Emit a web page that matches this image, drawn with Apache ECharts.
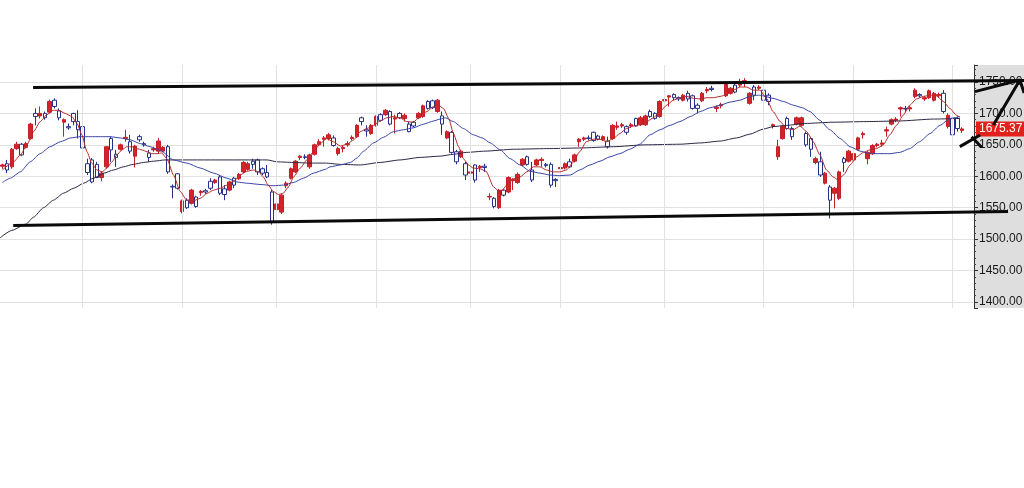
<!DOCTYPE html>
<html><head><meta charset="utf-8">
<script src="https://cdn.jsdelivr.net/npm/echarts@6/dist/echarts.min.js"></script>
<style>html,body{margin:0;padding:0;background:#fff}#c{width:1024px;height:488px}</style>
</head><body><div id="c"></div>
<script>
// ---- data ----
// candles: [open, close, low, high]
const candles = [
[1616,1618,1612,1620],[1620,1610,1605,1626],[1615,1643,1612,1645],[1644,1651,1642,1655],[1651,1634,1632,1653],
[1646,1652,1644,1655],[1660,1683,1658,1685],[1700,1695,1681,1708],[1696,1700,1692,1711],[1700,1693,1690,1703],
[1702,1719,1700,1722],[1721,1711,1708,1724],[1704,1693,1689,1708],[1686,1690,1663,1692],[1679,1677,1674,1684],
[1700,1687,1681,1701],[1687,1674,1660,1705],[1679,1645,1631,1682],[1620,1606,1602,1628],[1626,1591,1589,1629],
[1619,1598,1597,1623],[1598,1605,1592,1607],[1615,1647,1612,1648],[1660,1642,1623,1663],[1635,1630,1615,1642],
[1643,1650,1641,1652],[1660,1662,1655,1674],[1655,1640,1636,1666],[1632,1648,1614,1650],[1663,1658,1655,1666],
[1652,1650,1647,1655],[1637,1630,1623,1642],[1642,1644,1639,1647],[1640,1656,1636,1661],[1640,1646,1638,1648],
[1647,1607,1604,1650],[1584,1583,1565,1587],[1604,1581,1579,1605],[1544,1561,1541,1563],[1562,1550,1548,1565],
[1557,1578,1555,1580],[1567,1552,1550,1569],[1574,1576,1569,1578],[1577,1575,1572,1580],[1592,1581,1578,1597],
[1590,1594,1588,1596],[1599,1573,1570,1602],[1580,1571,1562,1586],[1578,1591,1576,1593],[1597,1586,1581,1599],
[1596,1603,1594,1605],[1607,1622,1605,1624],[1611,1620,1609,1623],[1624,1619,1612,1628],[1626,1607,1602,1628],
[1612,1605,1602,1614],[1606,1599,1597,1618],[1575,1528,1523,1578],[1547,1556,1544,1558],[1543,1570,1540,1572],
[1585,1589,1581,1592],[1597,1612,1595,1614],[1607,1624,1605,1626],[1630,1632,1626,1634],[1631,1630,1627,1635],
[1615,1634,1612,1636],[1635,1650,1633,1652],[1650,1655,1648,1659],[1659,1661,1647,1664],[1660,1666,1657,1669],
[1661,1649,1647,1665],[1636,1644,1633,1647],[1644,1646,1638,1649],[1650,1652,1647,1656],[1660,1662,1657,1665],
[1663,1681,1661,1683],[1693,1687,1681,1695],[1674,1672,1663,1681],[1668,1681,1666,1683],[1681,1695,1679,1697],
[1698,1689,1687,1700],[1698,1705,1696,1707],[1703,1683,1681,1705],[1691,1693,1668,1698],[1700,1693,1691,1702],
[1692,1697,1687,1700],[1683,1671,1670,1687],[1686,1680,1678,1688],[1693,1700,1691,1702],[1695,1712,1693,1714],
[1719,1708,1706,1721],[1720,1709,1707,1722],[1703,1721,1701,1723],[1696,1683,1666,1703],[1661,1671,1659,1673],
[1670,1638,1636,1672],[1639,1623,1619,1642],[1631,1640,1629,1642],[1620,1602,1594,1623],[1605,1607,1602,1610],
[1618,1594,1590,1619],[1614,1616,1607,1618],[1616,1614,1607,1620],[1567,1568,1562,1573],[1565,1552,1549,1567],
[1550,1578,1548,1580],[1578,1570,1568,1580],[1575,1598,1573,1600],[1593,1595,1578,1597],[1590,1603,1588,1606],
[1618,1627,1616,1629],[1631,1619,1617,1633],[1610,1594,1591,1623],[1618,1626,1616,1628],[1625,1627,1615,1630],
[1619,1617,1614,1621],[1619,1586,1582,1622],[1595,1593,1583,1597],[1612,1614,1609,1616],[1613,1620,1611,1622],
[1623,1615,1613,1628],[1624,1634,1622,1636],[1655,1659,1647,1661],[1659,1661,1656,1663],[1661,1660,1657,1665],
[1670,1657,1655,1671],[1664,1659,1657,1666],[1658,1663,1656,1665],[1656,1647,1644,1663],[1660,1681,1658,1683],
[1678,1680,1674,1687],[1680,1682,1677,1685],[1679,1670,1666,1681],[1680,1682,1677,1685],[1692,1680,1679,1693],
[1682,1693,1680,1696],[1682,1696,1680,1698],[1703,1695,1693,1706],[1700,1692,1690,1702],[1695,1719,1693,1721],
[1720,1722,1713,1724],[1726,1728,1711,1729],[1730,1725,1721,1732],[1725,1723,1720,1727],[1721,1729,1719,1731],
[1732,1723,1719,1736],[1728,1708,1706,1730],[1713,1708,1700,1716],[1720,1732,1718,1734],[1736,1738,1732,1742],
[1740,1738,1735,1744],[1708,1710,1702,1713],[1712,1714,1708,1717],[1728,1746,1726,1748],[1732,1740,1730,1742],
[1745,1734,1732,1748],[1745,1751,1742,1755],[1750,1752,1742,1756],[1716,1732,1714,1734],[1742,1729,1721,1745],
[1740,1742,1737,1745],[1737,1721,1711,1740],[1729,1719,1713,1732],[1680,1682,1676,1684],[1631,1647,1626,1658],
[1660,1679,1658,1681],[1692,1676,1674,1695],[1676,1663,1658,1679],[1683,1693,1681,1695],[1681,1693,1679,1695],
[1668,1650,1647,1671],[1660,1643,1631,1663],[1622,1628,1619,1631],[1623,1602,1599,1639],[1589,1605,1587,1607],
[1583,1562,1533,1586],[1573,1581,1549,1583],[1565,1607,1562,1609],[1628,1622,1607,1631],[1624,1640,1622,1642],
[1626,1636,1624,1638],[1643,1661,1641,1663],[1666,1668,1660,1671],[1628,1638,1619,1640],[1636,1649,1634,1651],
[1649,1651,1646,1653],[1651,1653,1647,1658],[1672,1674,1663,1679],[1683,1690,1681,1692],[1689,1691,1686,1694],
[1707,1709,1695,1711],[1708,1707,1702,1712],[1707,1709,1703,1712],[1727,1737,1724,1740],[1730,1728,1725,1732],
[1723,1725,1720,1728],[1725,1736,1723,1738],[1721,1732,1719,1734],[1728,1730,1725,1733],[1732,1703,1700,1737],
[1679,1697,1676,1700],[1692,1666,1663,1695],[1692,1676,1671,1695],[1673,1675.37,1669,1678]
];
const lastPrice = 1675.37;
const dayCount = 206;                       // trading-day slots on the axis (last two empty)
const days = Array.from({length: dayCount}, (_, i) => String(i + 1));
const monthStartIdx = [17, 38, 58, 79, 99, 118, 140, 161, 180, 201];
const priceTicks = [1400, 1450, 1500, 1550, 1600, 1650, 1700, 1750];

// moving averages: [day index, value]
const ma5 = [[0,1610],[2.4,1623],[3.8,1634],[5.2,1650],[6.6,1671],[8,1687],[9.4,1698],[10.8,1705],[11.9,1705],[13.3,1700],[14.7,1695],[15.8,1684],[16.8,1666],[17.9,1639],[18.9,1621],[20,1610],[21.1,1607],[22.1,1613],[23.2,1623],[24.2,1634],[25.3,1642],[26.3,1647],[27.4,1647],[28.5,1644],[29.5,1642],[30.6,1639],[31.6,1636],[32.7,1636],[33.7,1637],[34.8,1628],[36.2,1602],[37.6,1576],[39,1562],[40.4,1561],[41.9,1565],[43.3,1573],[44.7,1578],[46.1,1581],[47.5,1586],[48.9,1592],[50.3,1602],[51.7,1608],[53.1,1610],[54.2,1607],[55.2,1599],[56.2,1586],[57.3,1576],[58.4,1571],[59.4,1573],[60.5,1583],[61.6,1599],[63,1613],[64.4,1626],[65.8,1639],[67.2,1652],[68.6,1660],[70,1655],[71.5,1648],[72.9,1651],[74.3,1658],[75.7,1671],[77.1,1676],[78.5,1681],[79.9,1688],[81.3,1693],[82.7,1695],[84.1,1693],[85.5,1687],[86.9,1686],[88.3,1695],[89.8,1703],[91.2,1711],[92.2,1713],[93.3,1708],[94.4,1692],[95.4,1668],[96.5,1647],[97.5,1628],[98.6,1618],[99.6,1613],[101,1612],[102.3,1608],[103.9,1583],[105.3,1574],[106.7,1586],[108.1,1596],[109.5,1599],[110.9,1607],[112.3,1615],[113.7,1615],[115.1,1610],[116.5,1607],[117.9,1607],[119.3,1610],[120.7,1622],[122.1,1639],[123.5,1655],[125,1659],[126.4,1659],[127.8,1655],[129.2,1660],[130.6,1668],[132,1676],[133.4,1680],[134.8,1682],[136.3,1687],[137.7,1693],[139.1,1703],[140.5,1713],[141.9,1721],[143.3,1725],[144.7,1727],[146.2,1724],[147.6,1723],[149,1725],[150.4,1725],[151.8,1727],[153.2,1730],[154.6,1737],[156,1742],[157.4,1742],[158.8,1737],[160.2,1737],[161.6,1724],[163,1703],[164.5,1687],[165.9,1676],[167.3,1674],[168.7,1680],[170.1,1671],[171.5,1655],[172.9,1634],[174.3,1610],[175.7,1599],[176.8,1594],[177.9,1602],[179.3,1618],[180.7,1631],[182.1,1638],[183.5,1642],[184.9,1644],[186.3,1650],[187.7,1666],[189.1,1681],[190.5,1697],[191.9,1713],[193.3,1723],[194.8,1727],[196.2,1729],[197.6,1728],[199,1719],[200.4,1708],[201.8,1697],[202.5,1694]];
const ma20 = [[0,1590],[1.7,1597],[3.8,1607],[5.9,1623],[8,1636],[10.1,1647],[12.3,1655],[14.4,1661],[16.5,1663],[18.6,1663],[20.7,1663],[22.8,1663],[24.9,1661],[27,1658],[29.2,1652],[31.3,1647],[33.4,1641],[36.2,1626],[39,1621],[41.9,1613],[44.7,1605],[47.5,1597],[49.6,1591],[51.7,1589],[54.5,1587],[57.3,1585],[59.5,1586],[61.5,1590],[63.7,1597],[65.8,1605],[68.3,1611],[69.3,1615],[71.5,1618],[73.6,1622],[75,1629],[76.4,1640],[78.5,1653],[80.6,1662],[82.7,1671],[84.8,1674],[86.9,1677],[89.1,1683],[91.2,1688],[92.6,1691],[93.7,1693],[95.4,1687],[97.5,1676],[99.6,1666],[101.5,1661],[103.2,1653],[105.3,1642],[107.4,1628],[109.5,1618],[111.6,1608],[113.7,1605],[115.8,1602],[117.9,1601],[120.1,1602],[122.1,1610],[124.3,1618],[126.4,1624],[128.5,1631],[130.6,1636],[132.7,1643],[134.8,1651],[137,1666],[139.1,1674],[141.2,1681],[143.3,1687],[145.5,1695],[147.6,1703],[149.7,1709],[151.8,1713],[153.9,1718],[156,1721],[158.1,1727],[159.9,1729],[160.9,1728],[163,1724],[165.2,1719],[167.3,1713],[169.2,1709],[170.8,1703],[172.9,1689],[175,1674],[177.2,1660],[179.3,1647],[181.4,1640],[183.5,1636],[185.6,1636],[187.7,1636],[189.8,1638],[191.9,1644],[194,1655],[196.2,1668],[198.3,1681],[200.4,1692],[202.5,1695]];
const maLong = [[-0.5,1502],[2,1514],[5,1524],[6.6,1535],[8.7,1550],[10.8,1562],[12.9,1573],[15.1,1581],[17.2,1589],[19.3,1597],[21.5,1605],[23.5,1610],[25.6,1615],[27.7,1619],[29.9,1622],[32,1624],[34.4,1626],[45,1626],[56,1626],[58.1,1623],[61.5,1622],[65.1,1621],[68.3,1621],[71.5,1619],[75.7,1618],[79.9,1622],[84.1,1626],[88.3,1630],[92.6,1632],[95.4,1635],[98.2,1638],[102.1,1640],[108.1,1643],[115.1,1644],[122.1,1645],[129.2,1647],[135.9,1650],[143.3,1651],[147.6,1653],[151.8,1656],[155.3,1661],[158.1,1667],[160.9,1675],[163,1679],[165.9,1681],[169.7,1684],[175.7,1686],[182.8,1687],[189.8,1688],[196.9,1691],[202.5,1692]];

// hand-drawn channel lines and marks, in [day index, price]
const channelTop = [[6.5,1741.2],[216.1,1752.4]];
const channelBottom = [[2.3,1521.7],[212.7,1544.0]];
const marks = [[205.7,1734.6],[215.2,1753.2],[209.6,1681.6],null,[215.2,1753.2],[216.1,1732.5],null,
               [202.5,1647.1],[206.8,1665.7],null,[205.0,1663.0],[207.1,1646.1]];

// ---- chart ----
const FONT = 'Liberation Sans';
const Y_MIN = 1390.5, Y_MAX = 1777;
const PLOT_W = 974, FULL_W = 1024;          // plot width vs. whole-width overlay
const chart = echarts.init(document.getElementById('c'), null, {renderer: 'canvas'});
const lineCommon = {type: 'line', xAxisIndex: 1, yAxisIndex: 0, symbol: 'none', silent: true,
  smooth: 0.2, smoothMonotone: 'x', animation: false};
const overlayLine = {type: 'line', xAxisIndex: 3, yAxisIndex: 2, symbol: 'none', silent: true,
  clip: false, animation: false, connectNulls: false, lineStyle: {color: '#0a0a0a', width: 3}};
chart.setOption({
  animation: false,
  backgroundColor: '#ffffff',
  grid: [
    {left: 0, width: PLOT_W, top: 65, bottom: 180, outerBoundsMode: 'none', containLabel: false},
    {left: PLOT_W, right: 0, top: 65, bottom: 180, show: true, backgroundColor: '#dedede', borderWidth: 0,
     outerBoundsMode: 'none', containLabel: false, z: -1},
    {left: 0, width: FULL_W, top: 65, bottom: 180, outerBoundsMode: 'none', containLabel: false}
  ],
  xAxis: [
    {type: 'category', gridIndex: 0, data: days, boundaryGap: true, show: false},
    {type: 'value', gridIndex: 0, min: -0.5, max: dayCount - 0.5, show: false},
    {type: 'value', gridIndex: 1, show: false},
    {type: 'value', gridIndex: 2, min: -0.5, max: -0.5 + dayCount * FULL_W / PLOT_W, show: false}
  ],
  yAxis: [
    {type: 'value', gridIndex: 0, position: 'right', min: Y_MIN, max: Y_MAX,
     splitNumber: 8, minInterval: 50, maxInterval: 50,
     axisLine: {show: true, onZero: false, lineStyle: {color: '#333', width: 1}},
     axisTick: {show: true, inside: false, length: 4, lineStyle: {color: '#333'}},
     minorTick: {show: true, splitNumber: 5, length: 2, lineStyle: {color: '#444'}},
     axisLabel: {show: true, margin: 5, color: '#1a1a1a', fontFamily: FONT, fontSize: 12,
       showMinLabel: false, showMaxLabel: false,
       formatter: v => priceTicks.indexOf(v) >= 0 ? v.toFixed(2) : ''},
     splitLine: {show: true, showMinLine: false, showMaxLine: false, lineStyle: {color: '#e2e2e2', width: 1}}},
    {type: 'value', gridIndex: 1, show: false},
    {type: 'value', gridIndex: 2, min: Y_MIN, max: Y_MAX, show: false}
  ],
  series: [
    {type: 'line', name: 'months', xAxisIndex: 1, yAxisIndex: 0, data: [], z: 0, silent: true,
     markLine: {silent: true, symbol: ['none', 'none'], animation: false, label: {show: false},
       lineStyle: {color: '#e2e2e2', width: 1, type: 'solid'},
       data: monthStartIdx.map(i => ({xAxis: i}))}},
    {type: 'candlestick', name: 'price', xAxisIndex: 0, yAxisIndex: 0, data: candles, barWidth: 4, z: 3,
     silent: true,
     itemStyle: {color: '#d4232b', color0: '#ffffff', borderColor: '#c41e26', borderColor0: '#25308a', borderWidth: 1}},
    Object.assign({}, lineCommon, {name: 'MA long', data: maLong, z: 4, lineStyle: {color: '#2c2544', width: 1}}),
    Object.assign({}, lineCommon, {name: 'MA20', data: ma20, z: 5, lineStyle: {color: '#3b44a6', width: 1}}),
    Object.assign({}, lineCommon, {name: 'MA5', data: ma5, z: 6, lineStyle: {color: '#b42a2a', width: 1}}),
    Object.assign({}, overlayLine, {name: 'top', data: channelTop, z: 8}),
    Object.assign({}, overlayLine, {name: 'bottom', data: channelBottom, z: 8}),
    Object.assign({}, overlayLine, {name: 'marks', data: marks, z: 9}),
    {type: 'line', name: 'last', xAxisIndex: 3, yAxisIndex: 2, data: [], z: 10, silent: true,
     markLine: {silent: true, symbol: ['none', 'none'], animation: false,
       lineStyle: {color: 'rgba(0,0,0,0)', width: 0, opacity: 1},
       label: {show: true, position: 'end', distance: 2, opacity: 1, formatter: () => lastPrice.toFixed(2),
         color: '#ffffff', backgroundColor: '#e3201c', padding: [2, 3, 1, 3], fontFamily: FONT, fontSize: 12},
       data: [[{coord: [-0.5, lastPrice]}, {coord: [dayCount - 0.5, lastPrice]}]]}}
  ]
});
</script></body></html>
